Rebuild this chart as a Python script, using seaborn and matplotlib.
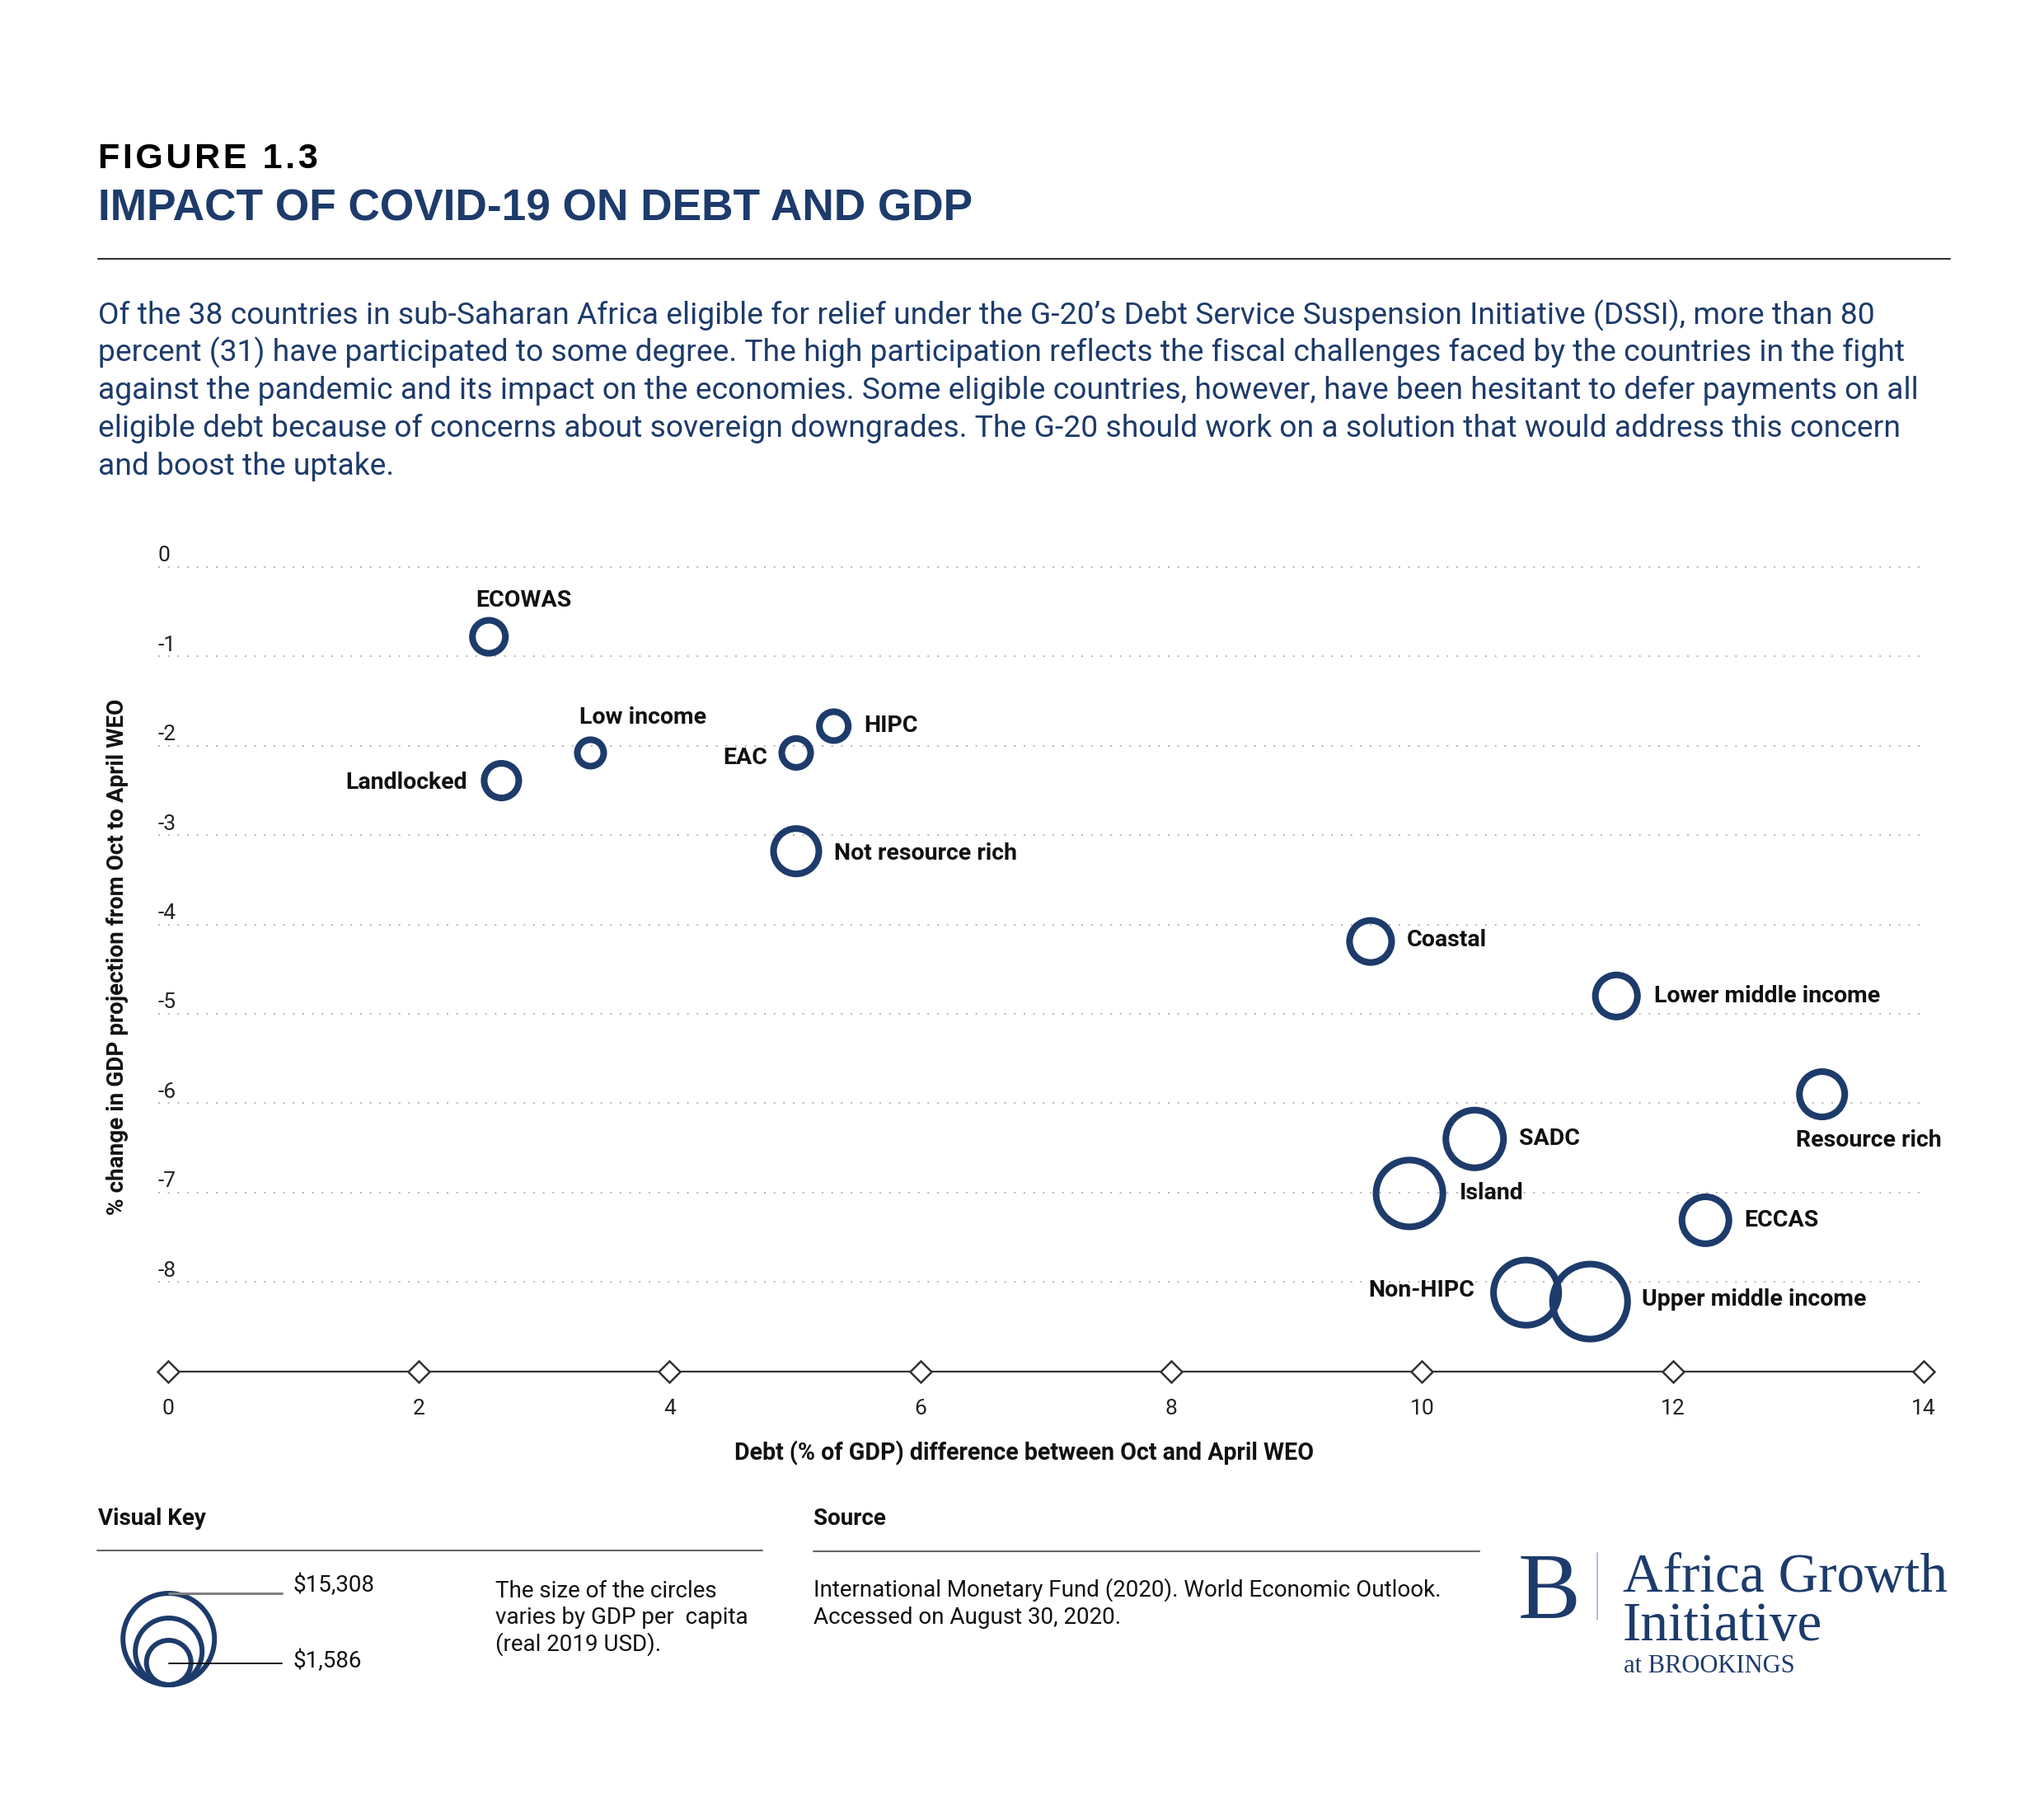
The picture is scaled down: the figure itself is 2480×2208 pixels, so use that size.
import numpy as np
import pandas as pd
import matplotlib
matplotlib.use("Agg")
import matplotlib.pyplot as plt
import seaborn as sns
from matplotlib.patches import Circle
from matplotlib.lines import Line2D
from matplotlib.transforms import ScaledTranslation

# ---- data ----
groups = ["ECOWAS", "Low income", "Landlocked", "EAC", "HIPC", "Not resource rich",
          "Coastal", "Lower middle income", "Resource rich", "SADC", "Island",
          "ECCAS", "Non-HIPC", "Upper middle income"]
debt_change = [2.56, 3.37, 2.66, 5.01, 5.31, 5.01, 9.59, 11.55, 13.19, 10.42, 9.90,
               12.26, 10.83, 11.34]
gdp_change = [-0.78, -2.08, -2.39, -2.08, -1.78, -3.18, -4.19, -4.80, -5.90, -6.40,
              -7.01, -7.31, -8.12, -8.22]
gdp_per_capita = [1450, 930, 1600, 1110, 1110, 2740, 2360, 2360, 2740, 4440, 5950,
                  2940, 5660, 7500]
x_ticks = [0, 2, 4, 6, 8, 10, 12, 14]
y_ticks = [0, -1, -2, -3, -4, -5, -6, -7, -8]
y_floor = -9
key_labels = ["$15,308", "$1,586"]

# label placement: offset (points) from the circle centre, alignment
label_pos = {
    "ECOWAS": (30, 32, "center"),
    "Low income": (46, 31, "center"),
    "Landlocked": (-30, -1.5, "right"),
    "EAC": (-25, -4, "right"),
    "HIPC": (26.5, 0, "left"),
    "Not resource rich": (33, -2, "left"),
    "Coastal": (31.7, 1.3, "left"),
    "Lower middle income": (33, 0, "left"),
    "Resource rich": (40.7, -40, "center"),
    "SADC": (39, 0, "left"),
    "Island": (43.4, 0, "left"),
    "ECCAS": (34, 0, "left"),
    "Non-HIPC": (-45, 2, "right"),
    "Upper middle income": (45, 1.5, "left"),
}

paragraph = [
    "Of the 38 countries in sub-Saharan Africa eligible for relief under the G-20\u2019s Debt Service Suspension Initiative (DSSI), more than 80",
    "percent (31) have participated to some degree. The high participation reflects the fiscal challenges faced by the countries in the fight",
    "against the pandemic and its impact on the economies. Some eligible countries, however, have been hesitant to defer payments on all",
    "eligible debt because of concerns about sovereign downgrades. The G-20 should work on a solution that would address this concern",
    "and boost the uptake.",
]

NAVY = "#1d3b6b"
INK = "#111111"

sns.set_style("white")
plt.rcParams["font.family"] = ["Roboto", "DejaVu Sans"]
plt.rcParams["axes.unicode_minus"] = False

W, H = 2480, 2208
fig = plt.figure(figsize=(W / 100, H / 100), dpi=100)
renderer = fig.canvas.get_renderer()


def fx(px):
    return px / W


def fy(px):
    return 1 - px / H


def fit_width(t, target):
    w = t.get_window_extent(renderer).width
    t.set_fontsize(t.get_fontsize() * target / w)


# ---- chart ----
ax = fig.add_axes([fx(191.5), fy(1663.6), (2334 - 191.5) / W, (1663.6 - 679.3) / H])
ax.set_facecolor("none")

df = pd.DataFrame({"group": groups, "debt": debt_change, "gdp": gdp_change,
                   "gdppc": gdp_per_capita})

sns.scatterplot(data=df, x="debt", y="gdp", size="gdppc", sizes=(0, 5720),
                size_norm=(0, 10000), facecolor="none", edgecolor=NAVY,
                linewidth=5.8, legend=False, ax=ax, zorder=3, clip_on=False)

# x axis line with diamond ticks
ax.plot(x_ticks, [y_floor] * len(x_ticks), color="#333333", lw=1.6, marker="D",
        ms=13, mfc="white", mec="#333333", mew=1.8, clip_on=False, zorder=4)

ax.set_xlim(-0.08, 14.0)
ax.set_ylim(y_floor, 0.08)
ax.set_xticks(x_ticks)
ax.set_yticks(y_ticks)
ax.grid(axis="y", color="#b5b5b5", linestyle=(0, (1, 5)), linewidth=1.4)
ax.grid(axis="x", visible=False)
for s in ax.spines.values():
    s.set_visible(False)
ax.tick_params(axis="x", length=0, pad=24, labelsize=19, labelcolor="#222222")
ax.tick_params(axis="y", length=0, pad=0, labelsize=19, labelcolor="#222222")
for lbl in ax.get_yticklabels():
    lbl.set_horizontalalignment("left")
    lbl.set_transform(lbl.get_transform() + ScaledTranslation(0, 0.16, fig.dpi_scale_trans))

for name, x, y in zip(groups, debt_change, gdp_change):
    dx, dy, ha = label_pos[name]
    ax.annotate(name, (x, y), xytext=(dx, dy), textcoords="offset points",
                ha=ha, va="center", fontsize=20.5, fontweight="bold", color=INK)

ax.set_xlabel("Debt (% of GDP) difference between Oct and April WEO",
              fontsize=20.6, fontweight="bold", color=INK)
ax.xaxis.set_label_coords(0.4908, -0.101)
ax.xaxis.label.set_va("center")
ax.set_ylabel("% change in GDP projection from Oct to April WEO",
              fontsize=20.1, fontweight="bold", color=INK)
ax.yaxis.set_label_coords(-0.0229, 0.5107)
ax.yaxis.label.set_va("center")

# ---- header ----
fig.text(fx(119), fy(204), "\u200a".join("FIGURE 1.3"), fontsize=31, fontweight="bold",
         family=["Liberation Sans", "DejaVu Sans"], color="black", va="baseline")
title = fig.text(fx(119), fy(267), "IMPACT OF COVID-19 ON DEBT AND GDP", fontsize=37.8,
                 fontweight="bold", family=["Liberation Sans"], color=NAVY, va="baseline")
fit_width(title, 1062)
fig.add_artist(Line2D([fx(119), fx(2366)], [fy(314)] * 2, color="#333333", lw=1.5))

para = [fig.text(fx(119), fy(393 + i * 45.75), line, fontsize=26, color=NAVY, va="baseline")
        for i, line in enumerate(paragraph)]
fit_width(para[0], 2150)
for t in para[1:]:
    t.set_fontsize(para[0].get_fontsize())

# ---- footer: visual key ----
fig.text(fx(119), fy(1850), "Visual Key", fontsize=20, fontweight="bold", color=INK, va="baseline")
fig.add_artist(Line2D([fx(118), fx(925)], [fy(1881)] * 2, color="#666666", lw=1.5))
for r, cy in [(55.5, 1988.5), (40.5, 2003.5), (27, 2017)]:
    fig.add_artist(Circle((2.047, (H - cy) / 100), r / 100, transform=fig.dpi_scale_trans,
                          fill=False, ec=NAVY, lw=4.3))
fig.add_artist(Line2D([fx(205), fx(342)], [fy(1933)] * 2, color="#808080", lw=2.2))
fig.add_artist(Line2D([fx(205), fx(342)], [fy(2018)] * 2, color=INK, lw=1.4))
fig.text(fx(355), fy(1923), key_labels[0], fontsize=20, color=INK, va="center")
fig.text(fx(355), fy(2015), key_labels[1], fontsize=20, color=INK, va="center")
for i, line in enumerate(["The size of the circles", "varies by GDP per  capita",
                          "(real 2019 USD)."]):
    fig.text(fx(601), fy(1938 + i * 32.5), line, fontsize=20, color=INK, va="baseline")

# ---- footer: source ----
fig.text(fx(987), fy(1850), "Source", fontsize=20, fontweight="bold", color=INK, va="baseline")
fig.add_artist(Line2D([fx(987), fx(1795)], [fy(1882)] * 2, color="#666666", lw=1.5))
fig.text(fx(987), fy(1937), "International Monetary Fund (2020). World Economic Outlook.",
         fontsize=20, color=INK, va="baseline")
fig.text(fx(987), fy(1970), "Accessed on August 30, 2020.", fontsize=20, color=INK, va="baseline")

# ---- footer: logo ----
serif = ["Liberation Serif", "DejaVu Serif"]
fig.text(fx(1842), fy(1963), "B", fontsize=82, family=serif, color=NAVY, va="baseline")
fig.add_artist(Line2D([fx(1938)] * 2, [fy(1884), fy(1965)], color="#a3b1cc", lw=1.2))
ag = fig.text(fx(1969), fy(1931), "Africa Growth", fontsize=49, family=serif, color=NAVY,
              va="baseline")
fit_width(ag, 394)
fig.text(fx(1969), fy(1990), "Initiative", fontsize=ag.get_fontsize(), family=serif,
         color=NAVY, va="baseline")
fig.text(fx(1970), fy(2029), "at BROOKINGS", fontsize=22, family=serif, color=NAVY,
         va="baseline")

fig.savefig("out.png", dpi=100)
plt.close(fig)
